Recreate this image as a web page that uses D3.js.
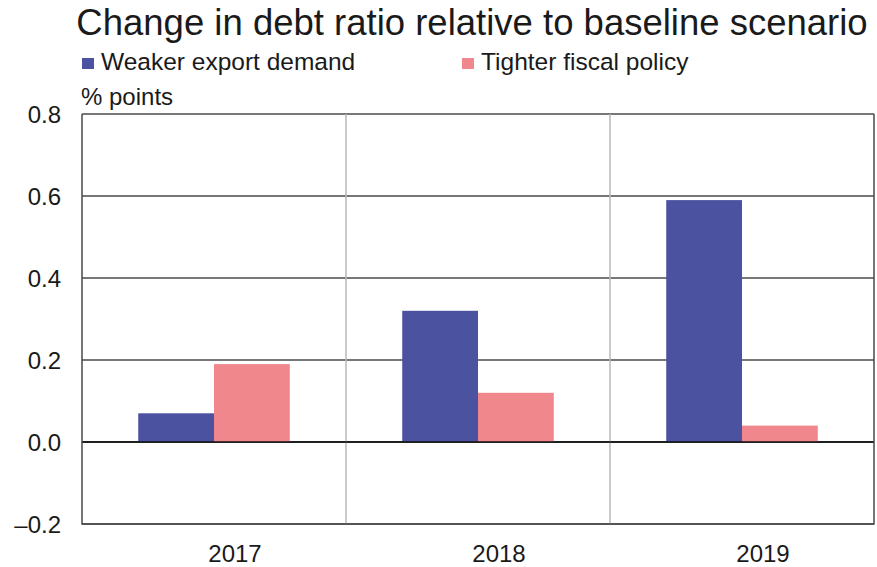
<!DOCTYPE html>
<html>
<head>
<meta charset="utf-8">
<script src="https://cdn.jsdelivr.net/npm/d3@7"></script>
<style>
  body { margin: 0; background: #fff; }
  text { font-family: "Liberation Sans", Arial, sans-serif; fill: #1a1a1a; }
</style>
</head>
<body>
<div id="chart"></div>
<script>
  let years = ["2017", "2018", "2019"]
  let series = ["Weaker export demand", "Tighter fiscal policy"]
  let weaker_export = [0.07, 0.32, 0.59]
  let tighter_fiscal = [0.19, 0.12, 0.04]
  let y_ticks = [0.8, 0.6, 0.4, 0.2, 0.0, -0.2]
  let colors = ["#4b529f", "#ef878d"]

  let data = years.map((yr, i) => ({year: yr, values: [weaker_export[i], tighter_fiscal[i]]}))

  let svg = d3.select("#chart")
  .append("svg")
  .attr("width", 877)
  .attr("height", 567)

  let margin = {top: 114, right: 3, bottom: 43, left: 82}
  let width = 877 - margin.left - margin.right
  let height = 567 - margin.top - margin.bottom

  let g = svg.append("g")
  .attr("transform", "translate(" + margin.left + "," + margin.top + ")")

  //X axis
  let x = d3.scaleBand()
  .domain(years)
  .range([0, width])

  let x_inner = d3.scaleBand()
  .domain(series)
  .range([x.bandwidth() * 0.213, x.bandwidth() * 0.787])

  //Y axis
  let y = d3.scaleLinear()
  .domain([-0.2, 0.8])
  .range([height, 0])

  // horizontal gridlines
  g.selectAll(".hgrid")
  .data(y_ticks)
  .enter()
  .append("line")
  .attr("x1", 0)
  .attr("x2", width)
  .attr("y1", d => y(d))
  .attr("y2", d => y(d))
  .style("stroke", d => d == 0 ? "#111" : "#4a4a4a")
  .style("stroke-width", 1.5)

  // vertical separators between years
  g.selectAll(".vgrid")
  .data(years.slice(1))
  .enter()
  .append("line")
  .attr("x1", d => x(d))
  .attr("x2", d => x(d))
  .attr("y1", 0)
  .attr("y2", height)
  .style("stroke", "#b8b8b8")
  .style("stroke-width", 1.5)

  // bars
  let groups = g.selectAll(".year_group")
  .data(data)
  .enter()
  .append("g")
  .attr("transform", d => "translate(" + x(d.year) + ",0)")

  groups.selectAll("rect")
  .data(d => d.values.map((v, i) => ({s: series[i], v: v, i: i})))
  .enter()
  .append("rect")
  .attr("x", d => x_inner(d.s))
  .attr("width", x_inner.bandwidth())
  .attr("y", d => y(Math.max(0, d.v)))
  .attr("height", d => Math.abs(y(d.v) - y(0)))
  .style("fill", d => colors[d.i])

  // zero line on top of bars
  g.append("line")
  .attr("x1", 0)
  .attr("x2", width)
  .attr("y1", y(0))
  .attr("y2", y(0))
  .style("stroke", "#111")
  .style("stroke-width", 1.5)

  // frame: left, right, bottom
  g.append("path")
  .attr("d", "M0,0V" + height + "H" + width + "V0")
  .style("fill", "none")
  .style("stroke", "#4a4a4a")
  .style("stroke-width", 1.5)

  // y tick labels
  g.selectAll(".y_label")
  .data(y_ticks)
  .enter()
  .append("text")
  .attr("x", -21)
  .attr("y", d => y(d) + 8.5)
  .style("text-anchor", "end")
  .style("font-size", "24px")
  .text(d => (d < 0 ? "\u2013" : "") + Math.abs(d).toFixed(1))

  // x labels
  g.selectAll(".x_label")
  .data(years)
  .enter()
  .append("text")
  .attr("x", d => x(d) + x.bandwidth() / 2 + 21)
  .attr("y", height + 38)
  .style("text-anchor", "middle")
  .style("font-size", "24px")
  .text(d => d)

  // title
  svg.append("text")
  .attr("x", 472)
  .attr("y", 35)
  .style("text-anchor", "middle")
  .style("font-size", "36.5px")
  .text("Change in debt ratio relative to baseline scenario")

  // legend
  let legend_x = [82, 462]
  series.forEach((s, i) => {
    svg.append("rect")
    .attr("x", legend_x[i])
    .attr("y", 58)
    .attr("width", 12)
    .attr("height", 11)
    .style("fill", colors[i])
    svg.append("text")
    .attr("x", legend_x[i] + 19)
    .attr("y", 70)
    .style("font-size", "24.5px")
    .text(s)
  })

  // unit label
  svg.append("text")
  .attr("x", 81)
  .attr("y", 105)
  .style("font-size", "24px")
  .text("% points")
</script>
</body>
</html>
